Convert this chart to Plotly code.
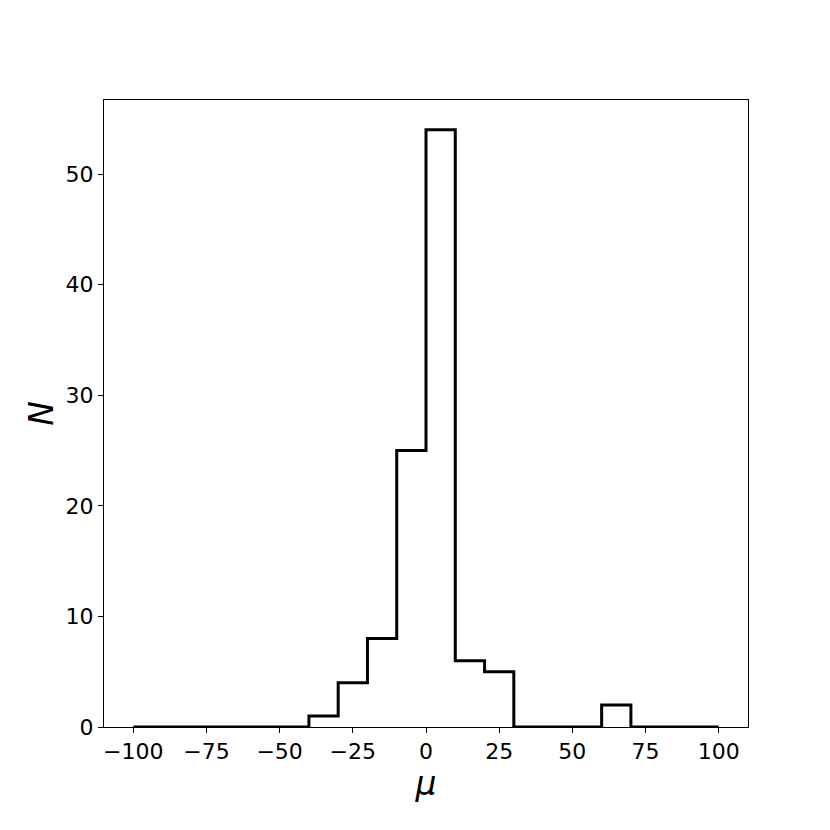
import plotly.graph_objects as go

bin_edges = [-100, -90, -80, -70, -60, -50, -40, -30, -20, -10, 0, 10, 20, 30, 40, 50, 60, 70, 80, 90, 100]
counts = [0, 0, 0, 0, 0, 0, 1, 4, 8, 25, 54, 6, 5, 0, 0, 0, 2, 0, 0, 0]
x_ticks = [-100, -75, -50, -25, 0, 25, 50, 75, 100]
y_ticks = [0, 10, 20, 30, 40, 50]

xs = [bin_edges[0]] + bin_edges
ys = [0] + counts + [0]

fig = go.Figure()
fig.add_trace(go.Scatter(x=xs, y=ys, mode="lines", line=dict(shape="hv", color="black", width=3),
                         showlegend=False, hoverinfo="skip"))

font = "DejaVu Sans"
fig.update_layout(
    width=830, height=830,
    margin=dict(l=96, r=90, t=92, b=111),
    plot_bgcolor="white", paper_bgcolor="white",
    font=dict(family=font, color="black", size=22),
)
fig.update_xaxes(range=[-110, 110], tickvals=x_ticks, ticks="outside", ticklen=5, tickwidth=1,
                 tickcolor="black", showline=True, linecolor="black", linewidth=1, mirror=True,
                 showgrid=False, zeroline=False, tickfont=dict(size=22, family=font),
                 title=dict(text="<i>μ</i>", font=dict(size=33, family=font), standoff=2))
fig.update_yaxes(range=[0, 56.7], tickvals=y_ticks, ticks="outside", ticklen=5, tickwidth=1,
                 tickcolor="black", showline=True, linecolor="black", linewidth=1, mirror=True,
                 showgrid=False, zeroline=False, tickfont=dict(size=22, family=font),
                 title=dict(text="<i>N</i>", font=dict(size=33, family=font), standoff=2))

fig.write_html("out.html")
